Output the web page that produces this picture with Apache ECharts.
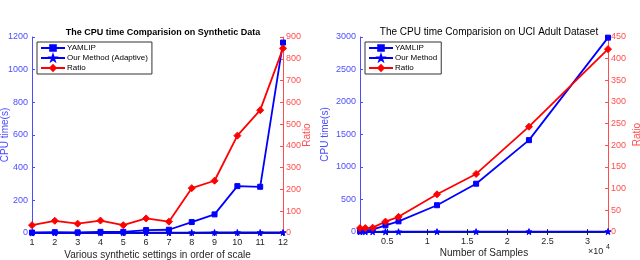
<!DOCTYPE html>
<html><head><meta charset="utf-8">
<script src="https://cdn.jsdelivr.net/npm/echarts@6/dist/echarts.min.js"></script>
<style>html,body{margin:0;padding:0;background:#fff}#c{width:640px;height:260px}</style>
</head><body><div id="c"></div>
<script>
// Left chart: synthetic data
var synSettings = [1,2,3,4,5,6,7,8,9,10,11,12];
var synYamlip = [3,5,4,7,7,18,20,67,114,287,283,1166];
var synOurs = [0.5,1,1,1.5,1.5,2,2,2.5,3,3,3,3];
var synRatio = [36,56,43,57,36,67,52,206,240,447,564,848];
// Right chart: UCI Adult
var adultSamples = [1605,2265,3185,4781,6414,11220,16100,22696,32561];
var adultYamlip = [12,22,35,102,164,412,743,1413,2990];
var adultOurs = [3,3,3,4,4,5,5,6,7];
var adultRatio = [9,9,10,24,35,87,134,243,422];
var synLeftTicks = [0,200,400,600,800,1000,1200];
var synRightTicks = [0,100,200,300,400,500,600,700,800,900];
var adultXTicks = [5000,10000,15000,20000,25000,30000];

function pairs(xs, ys){ return xs.map(function(x,i){return [x, ys[i]];}); }
var BLUE='#0000ff', RED='#ff0000', LB='#4d4dff', LR='#ff4d4d', DARK='#262626';
var FONT='Liberation Sans';
var star='path://M0,-10 L2.35,-3.24 9.51,-3.09 3.8,1.24 5.88,8.09 0,4 -5.88,8.09 -3.8,1.24 -9.51,-3.09 -2.35,-3.24Z';
function plain(v){ return String(v); }

function yAx(grid, pos, min, max, interval, col, name, nameGap){
  return {type:'value', gridIndex:grid, position:pos, min:min, max:max, interval:interval,
    name:name, nameLocation:'middle', nameGap:nameGap, nameMoveOverlap:false,
    nameTextStyle:{color:col, fontSize:10, fontFamily:FONT},
    axisLine:{show:true, lineStyle:{color:col, width:1}},
    axisTick:{show:true, inside:true, length:3, lineStyle:{color:col}},
    axisLabel:{color:col, fontSize:9, fontFamily:FONT, margin:pos==='left'?4:3, formatter:plain},
    splitLine:{show:false}};
}
function lineSeries(name, data, xi, yi, color, symbol, size){
  return {type:'line', name:name, xAxisIndex:xi, yAxisIndex:yi, data:data,
    symbol:symbol, symbolSize:size, showSymbol:true,
    lineStyle:{color:color, width:1.8},
    itemStyle:{color:color, borderColor:color, borderWidth:1},
    animation:false, z: 3};
}

var chart = echarts.init(document.getElementById('c'), null, {renderer:'canvas'});
chart.setOption({
  animation:false,
  textStyle:{fontFamily:FONT},
  title:[
    {text:'The CPU time Comparision on Synthetic Data', left:158, top:23, textAlign:'center',
      textStyle:{fontSize:9, fontWeight:'bold', color:'#000', fontFamily:FONT}},
    {text:'The CPU time Comparision on UCI Adult Dataset', left:484, top:22, textAlign:'center',
      textStyle:{fontSize:10, fontWeight:'normal', color:'#000', fontFamily:FONT}}
  ],
  legend:[
    {left:37, top:42, orient:'vertical', itemGap:2, itemWidth:24, itemHeight:7,
      data:['YAMLIP','Our Method (Adaptive)','Ratio'],
      borderColor:'#333', borderWidth:1, padding:[2,4,2,3], backgroundColor:'#fff',
      textStyle:{fontSize:8, color:'#000', fontFamily:FONT, padding:[0,0,0,-3]}, selectedMode:false},
    {left:365, top:42, orient:'vertical', itemGap:2, itemWidth:24, itemHeight:7,
      data:['YAMLIP ','Our Method','Ratio '],
      borderColor:'#333', borderWidth:1, padding:[2,4,2,3], backgroundColor:'#fff',
      textStyle:{fontSize:8, color:'#000', fontFamily:FONT, padding:[0,0,0,-3]}, selectedMode:false}
  ],
  grid:[
    {left:32, right:357, top:37, bottom:27, outerBoundsMode:'none', containLabel:false},
    {left:360, right:32, top:37, bottom:28, outerBoundsMode:'none', containLabel:false}
  ],
  xAxis:[
    {type:'value', gridIndex:0, min:1, max:12, interval:1, position:'bottom',
      name:'Various synthetic settings in order of scale', nameLocation:'middle', nameGap:17, nameMoveOverlap:false,
      nameTextStyle:{color:DARK, fontSize:10, fontFamily:FONT},
      axisLine:{lineStyle:{color:DARK}}, axisTick:{inside:true, length:3, lineStyle:{color:DARK}},
      axisLabel:{color:DARK, fontSize:9, fontFamily:FONT, margin:5}, splitLine:{show:false}},
    {type:'value', gridIndex:0, min:1, max:12, interval:1, position:'top',
      axisLine:{show:true, lineStyle:{color:DARK}}, axisTick:{show:true, inside:true, length:3, lineStyle:{color:DARK}},
      axisLabel:{show:false}, splitLine:{show:false}},
    {type:'value', gridIndex:1, min:1605, max:32561, position:'bottom',
      name:'Number of Samples', nameLocation:'middle', nameGap:16, nameMoveOverlap:false,
      nameTextStyle:{color:DARK, fontSize:10, fontFamily:FONT},
      axisLine:{lineStyle:{color:DARK}},
      axisTick:{inside:true, length:3, lineStyle:{color:DARK}, customValues:adultXTicks},
      axisLabel:{color:DARK, fontSize:9, fontFamily:FONT, margin:5, customValues:adultXTicks,
        formatter:function(v){return String(v/10000);}}, splitLine:{show:false}},
    {type:'value', gridIndex:1, min:1605, max:32561, position:'top',
      axisLine:{show:true, lineStyle:{color:DARK}},
      axisTick:{show:true, inside:true, length:3, lineStyle:{color:DARK}, customValues:adultXTicks},
      axisLabel:{show:false}, splitLine:{show:false}}
  ],
  yAxis:[
    yAx(0,'left',synLeftTicks[0],synLeftTicks[synLeftTicks.length-1],200,LB,'CPU time(s)',22),
    yAx(0,'right',synRightTicks[0],synRightTicks[synRightTicks.length-1],100,LR,'Ratio',19),
    yAx(1,'left',0,3000,500,LB,'CPU time(s)',30),
    yAx(1,'right',0,450,50,LR,'Ratio',24)
  ],
  graphic:[
    {type:'text', left:588, top:247, style:{text:'×10', fontSize:9, fill:DARK, fontFamily:FONT}},
    {type:'text', left:606, top:244, style:{text:'4', fontSize:7, fill:DARK, fontFamily:FONT}}
  ],
  series:[
    lineSeries('YAMLIP', pairs(synSettings, synYamlip), 0, 0, BLUE, 'rect', 5),
    lineSeries('Our Method (Adaptive)', pairs(synSettings, synOurs), 0, 0, BLUE, star, 6),
    lineSeries('Ratio', pairs(synSettings, synRatio), 0, 1, RED, 'diamond', 7),
    lineSeries('YAMLIP ', pairs(adultSamples, adultYamlip), 2, 2, BLUE, 'rect', 5),
    lineSeries('Our Method', pairs(adultSamples, adultOurs), 2, 2, BLUE, star, 6),
    lineSeries('Ratio ', pairs(adultSamples, adultRatio), 2, 3, RED, 'diamond', 7)
  ]
});
</script></body></html>
